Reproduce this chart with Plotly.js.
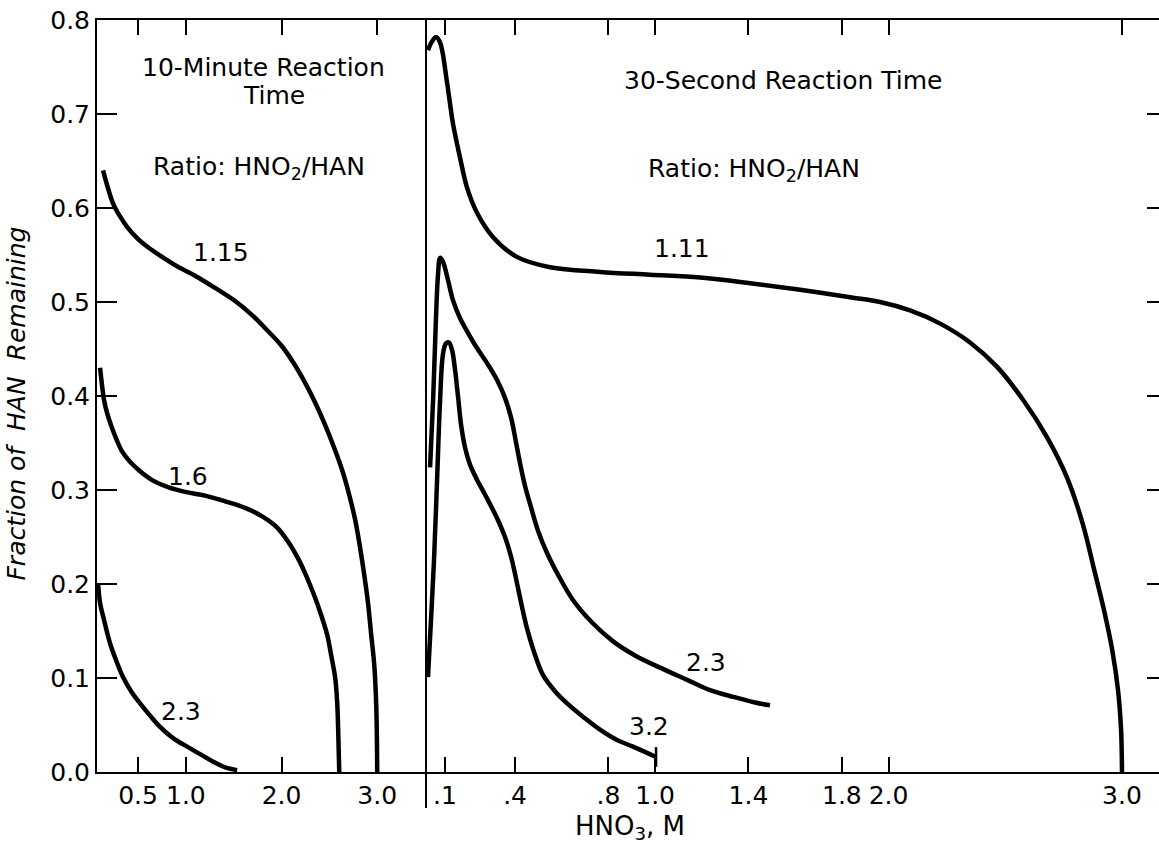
<!DOCTYPE html>
<html>
<head>
<meta charset="utf-8">
<script src="https://cdn.plot.ly/plotly-3.0.1.min.js"></script>
<style>html,body{margin:0;padding:0;background:#fff;}#chart{width:1159px;height:845px;}</style>
</head>
<body>
<div id="chart"></div>
<script>
// ---- 10-minute reaction time (left panel): HNO3 (M) vs fraction of HAN remaining
const left115X = [0.134,0.186,0.238,0.312,0.385,0.490,0.594,0.751,0.908,1.096,1.305,1.515,1.692,1.849,1.996,2.121,2.247,2.351,2.456,2.550,2.634,2.707,2.770,2.822,2.864,2.906,2.937,2.969,2.990,3.000];
const left115Y = [0.640,0.621,0.605,0.591,0.580,0.568,0.559,0.548,0.538,0.528,0.515,0.501,0.486,0.470,0.454,0.436,0.414,0.393,0.369,0.345,0.321,0.295,0.268,0.238,0.210,0.178,0.146,0.114,0.070,0.0];

const left16X = [0.103,0.123,0.144,0.176,0.218,0.270,0.333,0.416,0.521,0.657,0.814,0.992,1.201,1.410,1.619,1.797,1.944,2.069,2.174,2.257,2.341,2.414,2.477,2.519,2.561,2.582,2.592,2.603];
const left16Y = [0.430,0.412,0.396,0.382,0.369,0.355,0.341,0.330,0.320,0.310,0.303,0.298,0.294,0.288,0.281,0.272,0.261,0.245,0.227,0.209,0.188,0.167,0.146,0.124,0.100,0.073,0.045,0.0];

const left23X = [0.082,0.103,0.144,0.207,0.270,0.343,0.427,0.521,0.626,0.730,0.866,1.013,1.149,1.285,1.410,1.536];
const left23Y = [0.201,0.180,0.162,0.137,0.119,0.101,0.086,0.073,0.060,0.048,0.036,0.027,0.019,0.011,0.005,0.002];

// ---- 30-second reaction time (right panel)
const right111X = [0.027,0.044,0.061,0.079,0.109,0.134,0.164,0.194,0.237,0.306,0.408,0.550,0.764,0.978,1.193,1.407,1.621,1.835,1.964,2.092,2.221,2.349,2.465,2.576,2.679,2.765,2.833,2.881,2.923,2.958,2.983,2.996,3.0];
const right111Y = [0.768,0.777,0.782,0.776,0.733,0.690,0.654,0.622,0.595,0.569,0.548,0.537,0.532,0.529,0.526,0.520,0.513,0.505,0.500,0.491,0.477,0.457,0.431,0.396,0.356,0.313,0.263,0.215,0.172,0.130,0.087,0.045,0.0];

const right23X = [0.036,0.049,0.061,0.070,0.079,0.091,0.113,0.134,0.164,0.199,0.237,0.280,0.323,0.357,0.383,0.404,0.421,0.443,0.468,0.498,0.537,0.584,0.648,0.730,0.820,0.914,1.021,1.137,1.235,1.334,1.428,1.492];
const right23Y = [0.324,0.396,0.481,0.529,0.547,0.543,0.523,0.502,0.483,0.467,0.451,0.435,0.417,0.398,0.377,0.351,0.329,0.304,0.282,0.257,0.233,0.210,0.183,0.159,0.139,0.124,0.111,0.098,0.087,0.080,0.074,0.071];

const right32X = [0.027,0.040,0.053,0.066,0.079,0.091,0.104,0.117,0.130,0.143,0.156,0.169,0.186,0.207,0.237,0.276,0.323,0.357,0.383,0.404,0.426,0.451,0.481,0.520,0.571,0.623,0.700,0.764,0.837,0.905,1.004];
const right32Y = [0.101,0.162,0.226,0.311,0.396,0.444,0.456,0.457,0.449,0.428,0.399,0.369,0.345,0.327,0.311,0.293,0.270,0.250,0.229,0.206,0.180,0.153,0.128,0.103,0.086,0.073,0.057,0.045,0.034,0.027,0.016];

const leftTickVals = [0.5,1.0,2.0,3.0];
const leftTickText = ['0.5','1.0','2.0','3.0'];
const rightTickVals = [0.1,0.4,0.8,1.0,1.4,1.8,2.0,3.0];
const rightTickText = ['.1','.4','.8','1.0','1.4','1.8','2.0','3.0'];
const yTickVals = [0,0.1,0.2,0.3,0.4,0.5,0.6,0.7,0.8];

const FONT = 'DejaVu Sans, Verdana, sans-serif';
const lineStyle = {color:'#000', width:4.5, shape:'spline', smoothing:1};

function tr(x, y, xa, ya){
  return {x:x, y:y, xaxis:xa, yaxis:ya, mode:'lines', line:lineStyle, hoverinfo:'skip', showlegend:false};
}

const n32 = right32X.length - 1;
const data = [
  tr(left115X, left115Y, 'x', 'y'),
  tr(left16X, left16Y, 'x', 'y'),
  tr(left23X, left23Y, 'x', 'y'),
  tr(right111X, right111Y, 'x2', 'y2'),
  tr(right23X, right23Y, 'x2', 'y2'),
  tr(right32X, right32Y, 'x2', 'y2'),
  // small end mark on the 3.2 curve
  {x:[right32X[n32]], y:[right32Y[n32]], xaxis:'x2', yaxis:'y2', mode:'markers', hoverinfo:'skip', showlegend:false,
   marker:{symbol:'line-ns', size:14, line:{color:'#000', width:2.5}}}
];

const split = 0.3098;
const axCommon = {showline:true, linecolor:'#000', linewidth:2, showgrid:false, zeroline:false,
  ticks:'inside', tickcolor:'#000', tickwidth:2, tickfont:{family:FONT, size:25, color:'#000'}};

function ann(text, x, y, xref, yref, size){
  return {text:text, x:x, y:y, xref:xref, yref:yref, showarrow:false,
    font:{family:FONT, size:size||25, color:'#000'}, xanchor:'center', yanchor:'middle'};
}

const layout = {
  width:1159, height:845,
  margin:{l:97, r:0, t:20, b:73},
  paper_bgcolor:'#fff', plot_bgcolor:'#fff',
  showlegend:false,
  xaxis: Object.assign({}, axCommon, {domain:[0, split], range:[0.071, 3.51], tickvals:leftTickVals, ticktext:leftTickText, ticklen:15, mirror:'ticks', anchor:'y'}),
  yaxis: Object.assign({}, axCommon, {domain:[0,1], range:[0,0.8], tickvals:yTickVals, tickformat:'.1f', ticklen:20, anchor:'x'}),
  xaxis2: Object.assign({}, axCommon, {domain:[split, 1], range:[0.0186, 3.1585], tickvals:rightTickVals, ticktext:rightTickText, ticklen:15, mirror:'ticks', anchor:'y2'}),
  yaxis2: Object.assign({}, axCommon, {domain:[0,1], range:[0,0.8], tickvals:[0.1,0.2,0.3,0.4,0.5,0.6,0.7], ticklen:12, side:'right', anchor:'x2', showline:false, showticklabels:false}),
  shapes:[
    {type:'line', xref:'paper', yref:'paper', x0:split, x1:split, y0:-0.048, y1:1, line:{color:'#000', width:2}}
  ],
  annotations:[
    {text:'<i>Fraction of&nbsp; HAN&nbsp; Remaining</i>', x:0, y:0.49, xref:'paper', yref:'paper', xshift:-80,
      textangle:-90, showarrow:false, font:{family:FONT, size:25, color:'#000'}, xanchor:'center', yanchor:'middle'},
    ann('10-Minute Reaction', 1.808, 0.750, 'x', 'y'),
    ann('Time', 1.923, 0.720, 'x', 'y'),
    ann('Ratio: HNO<sub>2</sub>/HAN', 1.766, 0.643, 'x', 'y'),
    ann('1.15', 1.368, 0.553, 'x', 'y'),
    ann('1.6', 1.023, 0.314, 'x', 'y'),
    ann('2.3', 0.950, 0.064, 'x', 'y'),
    ann('30-Second Reaction Time', 1.548, 0.736, 'x2', 'y2'),
    ann('Ratio: HNO<sub>2</sub>/HAN', 1.424, 0.640, 'x2', 'y2'),
    ann('1.11', 1.115, 0.557, 'x2', 'y2'),
    ann('2.3', 1.218, 0.117, 'x2', 'y2'),
    ann('3.2', 0.974, 0.048, 'x2', 'y2'),
    {text:'HNO<sub>3</sub>, M', x:0.502, y:0, xref:'paper', yref:'paper', yshift:-55, showarrow:false,
      font:{family:FONT, size:26, color:'#000'}, xanchor:'center', yanchor:'middle'}
  ]
};

Plotly.newPlot('chart', data, layout, {staticPlot:true, displayModeBar:false});
</script>
</body>
</html>
